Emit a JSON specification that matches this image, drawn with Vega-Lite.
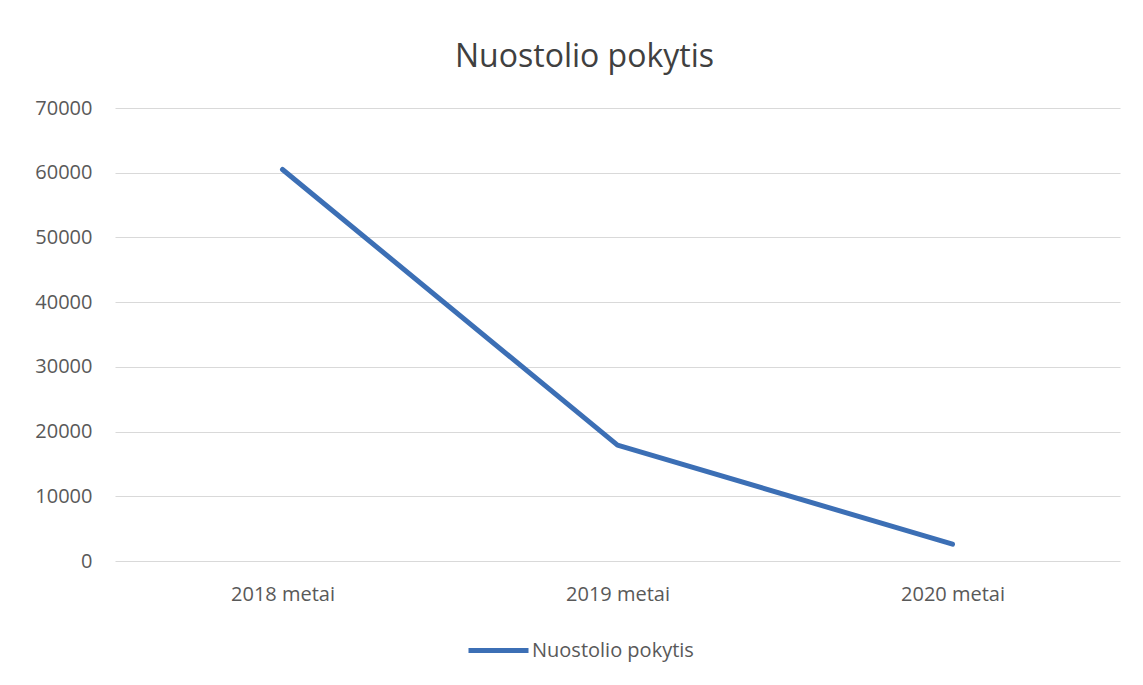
{
  "$schema": "https://vega.github.io/schema/vega-lite/v6.json",
  "width": 1005,
  "height": 453,
  "autosize": {"type": "none"},
  "padding": {"left": 115, "top": 108, "right": 23, "bottom": 124},
  "background": "white",
  "title": {"text": "Nuostolio pokytis", "fontSize": 32, "font": "Open Sans", "fontWeight": "normal", "color": "#404040", "offset": 24, "anchor": "middle", "dx": -33},
  "data": {"values": [
    {"year": "2018 metai", "value": 60500, "series": "Nuostolio pokytis"},
    {"year": "2019 metai", "value": 17900, "series": "Nuostolio pokytis"},
    {"year": "2020 metai", "value": 2600, "series": "Nuostolio pokytis"}
  ]},
  "mark": {"type": "line", "strokeWidth": 5, "strokeCap": "round", "strokeJoin": "round"},
  "encoding": {
    "x": {"field": "year", "type": "nominal", "title": null, "sort": null,
      "scale": {"type": "point", "padding": 0.5},
      "axis": {"labelAngle": 0, "domain": false, "ticks": false, "labelFontSize": 20, "labelFont": "Open Sans", "labelColor": "#595959", "labelPadding": 23, "grid": false}},
    "y": {"field": "value", "type": "quantitative", "title": null,
      "scale": {"domain": [0, 70000], "nice": false},
      "axis": {"values": [0, 10000, 20000, 30000, 40000, 50000, 60000, 70000], "format": "d", "domain": false, "ticks": false, "labelFontSize": 20, "labelFont": "Open Sans", "labelColor": "#595959", "labelPadding": 23, "gridColor": "#d9d9d9", "gridWidth": 1}},
    "color": {"field": "series", "type": "nominal", "scale": {"range": ["#3c6fb5"]},
      "legend": {"title": null, "orient": "none", "legendX": 351, "legendY": 510, "symbolType": "stroke", "symbolSize": 3600, "symbolStrokeWidth": 5, "labelFontSize": 20, "labelFont": "Open Sans", "labelColor": "#595959", "labelOffset": 1, "labelLimit": 400}}
  },
  "config": {"view": {"stroke": null}}
}
